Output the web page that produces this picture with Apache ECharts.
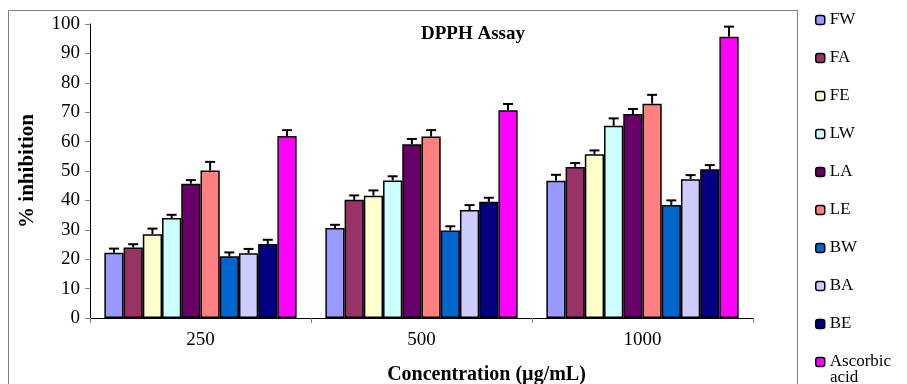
<!DOCTYPE html>
<html>
<head>
<meta charset="utf-8">
<script src="https://cdn.jsdelivr.net/npm/echarts@6/dist/echarts.min.js"></script>
<style>
  html, body { margin: 0; padding: 0; background: #fff; }
  #main { width: 907px; height: 384px; }
</style>
</head>
<body>
<div id="main"></div>
<script>
// 浓度分组
var categories = ['250', '500', '1000'];
var seriesNames = ['FW', 'FA', 'FE', 'LW', 'LA', 'LE', 'BW', 'BA', 'BE', 'Ascorbic acid'];
var colors = ['#9999FF', '#993366', '#FFFFCC', '#CCFFFF', '#660066', '#FF8080', '#0066CC', '#CCCCFF', '#000080', '#FF00FF'];

// 每个样品在 250 / 500 / 1000 的抑制率
var FW = [22.2, 30.6, 46.7];
var FA = [24.0, 40.2, 51.4];
var FE = [28.5, 41.6, 55.7];
var LW = [34.0, 46.8, 65.4];
var LA = [45.7, 59.1, 69.4];
var LE = [50.2, 61.7, 72.9];
var BW = [21.0, 29.8, 38.4];
var BA = [22.0, 36.7, 47.2];
var BE = [25.2, 39.5, 50.6];
var AA = [61.9, 70.7, 95.7];

// 误差（只画上半部分）
var errFW = [1.4, 1.1, 2.0];
var errFA = [1.1, 1.5, 1.3];
var errFE = [1.9, 1.8, 1.3];
var errLW = [1.1, 1.4, 2.5];
var errLA = [1.2, 1.8, 1.7];
var errLE = [2.9, 2.2, 3.0];
var errBW = [1.3, 1.4, 1.6];
var errBA = [1.5, 1.7, 1.4];
var errBE = [1.4, 1.4, 1.4];
var errAA = [2.0, 2.1, 3.4];

var values = [FW, FA, FE, LW, LA, LE, BW, BA, BE, AA];
var errors = [errFW, errFA, errFE, errLW, errLA, errLE, errBW, errBA, errBE, errAA];

var chart = echarts.init(document.getElementById('main'));

var gapRatio = 0.13;
var n = seriesNames.length;
var serif = '"Liberation Serif", "Times New Roman", serif';

var series = [];
seriesNames.forEach(function (name, i) {
    series.push({
        name: name,
        type: 'bar',
        barGap: 0,
        barCategoryGap: (gapRatio * 100) + '%',
        itemStyle: { color: colors[i], borderColor: '#000', borderWidth: 1.5 },
        data: values[i]
    });
});

// 误差线
seriesNames.forEach(function (name, i) {
    series.push({
        type: 'custom',
        name: name + '-err',
        z: 5,
        silent: true,
        renderItem: function (params, api) {
            var c = api.value(0);
            var v = api.value(1);
            var e = api.value(2);
            var band = api.size([1, 0])[0];
            var bw = band * (1 - gapRatio) / n;
            var p0 = api.coord([c, v]);
            var p1 = api.coord([c, v + e]);
            var x = p0[0] + (i - (n - 1) / 2) * bw;
            var half = 5;
            return {
                type: 'group',
                children: [
                    { type: 'line', shape: { x1: x, y1: p0[1], x2: x, y2: p1[1] }, style: { stroke: '#000', lineWidth: 2 } },
                    { type: 'line', shape: { x1: x - half, y1: p1[1], x2: x + half, y2: p1[1] }, style: { stroke: '#000', lineWidth: 2 } }
                ]
            };
        },
        data: values[i].map(function (v, k) { return [k, v, errors[i][k]]; })
    });
});

var option = {
    animation: false,
    title: {
        text: 'DPPH Assay',
        left: 468,
        top: 20,
        textAlign: 'center',
        textStyle: { fontFamily: serif, fontWeight: 'bold', fontSize: 19, color: '#000' }
    },
    legend: {
        data: seriesNames,
        orient: 'vertical',
        left: 810,
        top: 6,
        height: 430,
        itemWidth: 9,
        itemHeight: 9,
        itemGap: 20,
        itemStyle: { borderColor: '#000', borderWidth: 1.5 },
        // 图例只放第一行，第二行 "acid" 单独写
        formatter: function (name) { return name === 'Ascorbic acid' ? 'Ascorbic' : name; },
        textStyle: { fontFamily: serif, fontSize: 17, color: '#000', lineHeight: 18 }
    },
    grid: { left: 90, right: 154, top: 24, bottom: 66, outerBoundsMode: 'none' },
    xAxis: {
        type: 'category',
        data: categories,
        name: 'Concentration (µg/mL)',
        nameLocation: 'middle',
        nameGap: 47,
        nameTextStyle: { fontFamily: serif, fontWeight: 'bold', fontSize: 20, color: '#000', padding: [0, 0, 0, 130] },
        axisLine: { lineStyle: { color: '#000', width: 1 } },
        axisTick: { show: true, length: 5, lineStyle: { color: '#808080' } },
        axisLabel: { fontFamily: serif, fontSize: 19, color: '#000', margin: 13 }
    },
    yAxis: {
        type: 'value',
        min: 0,
        max: 100,
        interval: 10,
        name: '% inhibition',
        nameLocation: 'middle',
        nameGap: 52,
        nameTextStyle: { fontFamily: serif, fontWeight: 'bold', fontSize: 21, color: '#000' },
        axisLine: { show: true, lineStyle: { color: '#000', width: 1 } },
        axisTick: { show: true, length: 5, lineStyle: { color: '#808080' } },
        axisLabel: { fontFamily: serif, fontSize: 19, color: '#000', margin: 10 },
        splitLine: { show: false }
    },
    graphic: [
        { type: 'polyline', shape: { points: [[8.5, 400], [8.5, 10.5], [797.5, 10.5]] }, style: { stroke: '#808080', lineWidth: 1, fill: null } },
        { type: 'line', shape: { x1: 797.5, y1: 10, x2: 797.5, y2: 400 }, style: { stroke: '#808080', lineWidth: 1 } },
        { type: 'text', left: 830, top: 369, style: { text: 'acid', font: '17px ' + serif, fill: '#000' } }
    ],
    series: series
};

chart.setOption(option);
</script>
</body>
</html>
